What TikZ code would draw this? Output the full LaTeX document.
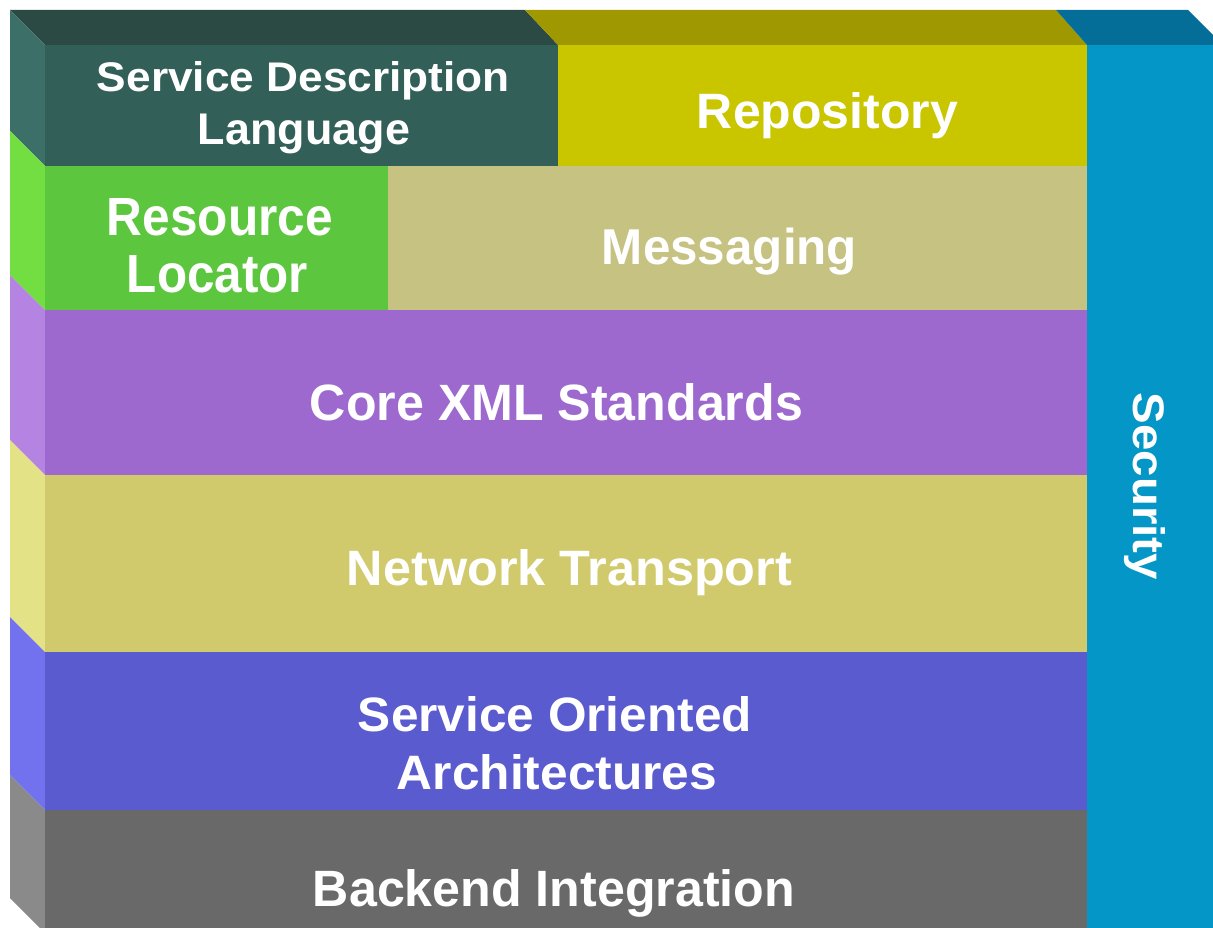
\documentclass[tikz,border=0pt]{standalone}
\usepackage{fontspec}
\setmainfont{Liberation Sans}
\usepackage{graphicx}

% face colours of the layer stack
\definecolor{sdlFront}{HTML}{325F58}
\definecolor{sdlTop}{HTML}{2B4A43}
\definecolor{sdlSide}{HTML}{3B6F68}
\definecolor{repFront}{HTML}{C9C600}
\definecolor{repTop}{HTML}{A09800}
\definecolor{locFront}{HTML}{5CC63E}
\definecolor{locSide}{HTML}{72DE42}
\definecolor{msgFront}{HTML}{C6C282}
\definecolor{xmlFront}{HTML}{9D69CF}
\definecolor{xmlSide}{HTML}{B584E2}
\definecolor{netFront}{HTML}{D0CA6C}
\definecolor{netSide}{HTML}{E4E286}
\definecolor{soaFront}{HTML}{5B5BD0}
\definecolor{soaSide}{HTML}{7272EE}
\definecolor{bkFront}{HTML}{696969}
\definecolor{bkSide}{HTML}{8A8A8A}
\definecolor{secFront}{HTML}{0496C6}
\definecolor{secTop}{HTML}{056E98}

% text scaled to a given width and cap height (in pt)
\newcommand{\fitword}[3]{\resizebox{#1pt}{#2pt}{#3}}

\tikzset{
  layertext/.style={text=white, font=\bfseries, inner sep=0pt, anchor=base}
}

\begin{document}
\begin{tikzpicture}[x=1pt,y=-1pt]
\useasboundingbox (0,0) rectangle (1213,928);
\clip (0,0) rectangle (1213,928);

% top faces
\fill[sdlTop] (10,10) -- (525,10) -- (558,45) -- (45,45) -- cycle;
\fill[repTop] (525,10) -- (1056,10) -- (1087,45) -- (558,45) -- cycle;
\fill[secTop] (1056,10) -- (1188,10) -- (1223,45) -- (1087,45) -- cycle;

% left side faces
\fill[sdlSide] (10,10) -- (45,45) -- (45,166) -- (10,131) -- cycle;
\fill[locSide] (10,131) -- (45,166) -- (45,310) -- (10,275) -- cycle;
\fill[xmlSide] (10,275) -- (45,310) -- (45,475) -- (10,440) -- cycle;
\fill[netSide] (10,440) -- (45,475) -- (45,652) -- (10,617) -- cycle;
\fill[soaSide] (10,617) -- (45,652) -- (45,810) -- (10,775) -- cycle;
\fill[bkSide] (10,775) -- (45,810) -- (45,933) -- (10,898) -- cycle;

% front faces
\fill[sdlFront] (45,45) rectangle (558,166);
\fill[repFront] (558,45) rectangle (1087,166);
\fill[locFront] (45,166) rectangle (388,310);
\fill[msgFront] (388,166) rectangle (1087,310);
\fill[xmlFront] (45,310) rectangle (1087,475);
\fill[netFront] (45,475) rectangle (1087,652);
\fill[soaFront] (45,652) rectangle (1087,810);
\fill[bkFront] (45,810) rectangle (1087,940);
\fill[secFront] (1087,45) rectangle (1230,940);

% labels
\node[layertext] (sdl1) at (303.5,91.5) {\fitword{413}{30}{Service Description}};
\node[layertext] (sdl2) at (304,145) {\fitword{212}{30.5}{Language}};
\node[layertext] (rep) at (827.5,129) {\fitword{261}{36}{Repository}};
\node[layertext] (loc1) at (220,236) {\fitword{226}{37}{Resource}};
\node[layertext] (loc2) at (217.5,292) {\fitword{181}{37}{Locator}};
\node[layertext] (msg) at (729.5,264) {\fitword{255}{36.5}{Messaging}};
\node[layertext] (xml) at (556.5,420) {\fitword{493}{37}{Core XML Standards}};
\node[layertext] (net) at (569.5,585) {\fitword{445}{36}{Network Transport}};
\node[layertext] (soa1) at (555,731) {\fitword{394}{35}{Service Oriented}};
\node[layertext] (soa2) at (557,789) {\fitword{320}{35}{Architectures}};
\node[layertext] (bk) at (554,906) {\fitword{482}{37}{Backend Integration}};
\node[layertext, rotate=-90] (sec) at (1133,486.5) {\fitword{187}{32}{Security}};
\end{tikzpicture}
\end{document}
